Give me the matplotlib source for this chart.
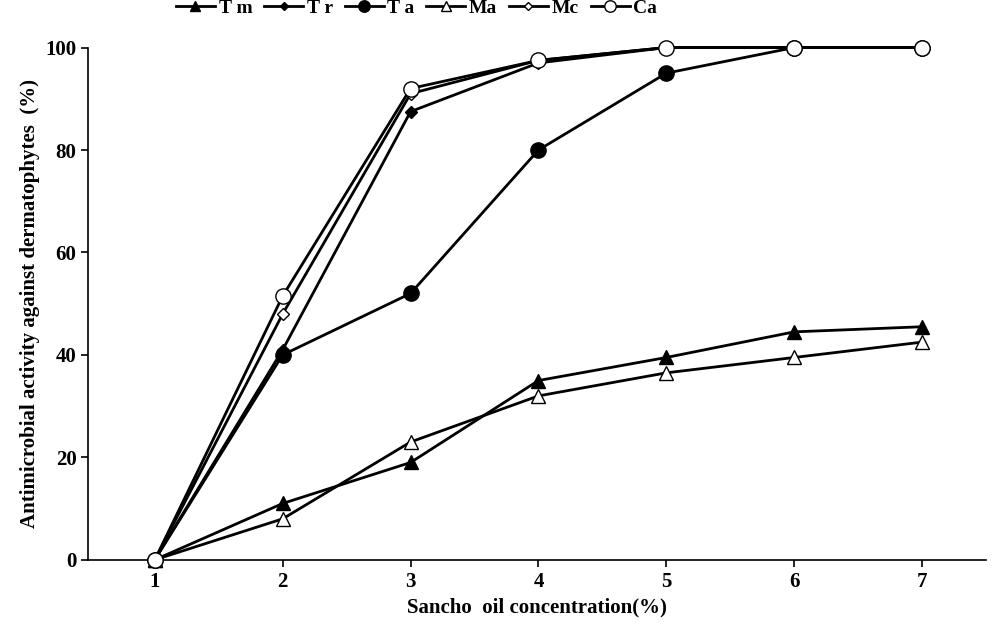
import matplotlib
matplotlib.use('Agg')
import matplotlib.pyplot as plt

conc = [1, 2, 3, 4, 5, 6, 7]
tm = [0, 11, 19, 35, 39.5, 44.5, 45.5]
tr = [0, 41, 87.5, 97, 100, 100, 100]
ta = [0, 40, 52, 80, 95, 100, 100]
ma = [0, 8, 23, 32, 36.5, 39.5, 42.5]
mc = [0, 48, 91, 97.5, 100, 100, 100]
ca = [0, 51.5, 92, 97.5, 100, 100, 100]

plt.rcParams['font.family'] = 'Liberation Serif'
plt.rcParams['font.weight'] = 'bold'

fig = plt.figure(figsize=(9.92, 6.34), dpi=100)
ax = fig.add_axes([0.089, 0.117, 0.905, 0.808])

kw = dict(color='black', lw=2, markeredgecolor='black', clip_on=False, zorder=3)
ax.plot(conc, tm, marker='^', ms=10, markerfacecolor='black', label='T m', **kw)
ax.plot(conc, tr, marker='D', ms=6, markerfacecolor='black', label='T r', **kw)
ax.plot(conc, ta, marker='o', ms=11, markerfacecolor='black', label='T a', **kw)
ax.plot(conc, ma, marker='^', ms=10, markerfacecolor='white', label='Ma', **kw)
ax.plot(conc, mc, marker='D', ms=6, markerfacecolor='white', label='Mc', **kw)
ax.plot(conc, ca, marker='o', ms=11, markerfacecolor='white', label='Ca', **kw)

ax.set_xlim(0.48, 7.5)
ax.set_ylim(0, 100)
ax.set_xticks(conc)
ax.set_yticks(range(0, 101, 20))
ax.tick_params(labelsize=15, direction='out', length=5, width=1.2)
for s in ('top', 'right'):
    ax.spines[s].set_visible(False)
for s in ('left', 'bottom'):
    ax.spines[s].set_linewidth(1.2)

ax.set_xlabel('Sancho  oil concentration(%)', fontsize=15, fontweight='bold')
ax.set_ylabel('Antimicrobial activity against dermatophytes  (%)', fontsize=15, fontweight='bold')

leg = ax.legend(loc='center', bbox_to_anchor=(0.42, 0.987), bbox_transform=fig.transFigure,
                ncol=6, frameon=False, fontsize=14, handlelength=2.0, columnspacing=0.6,
                handletextpad=0.2, markerscale=0.75, borderaxespad=0)

fig.savefig('out.png', dpi=100)
